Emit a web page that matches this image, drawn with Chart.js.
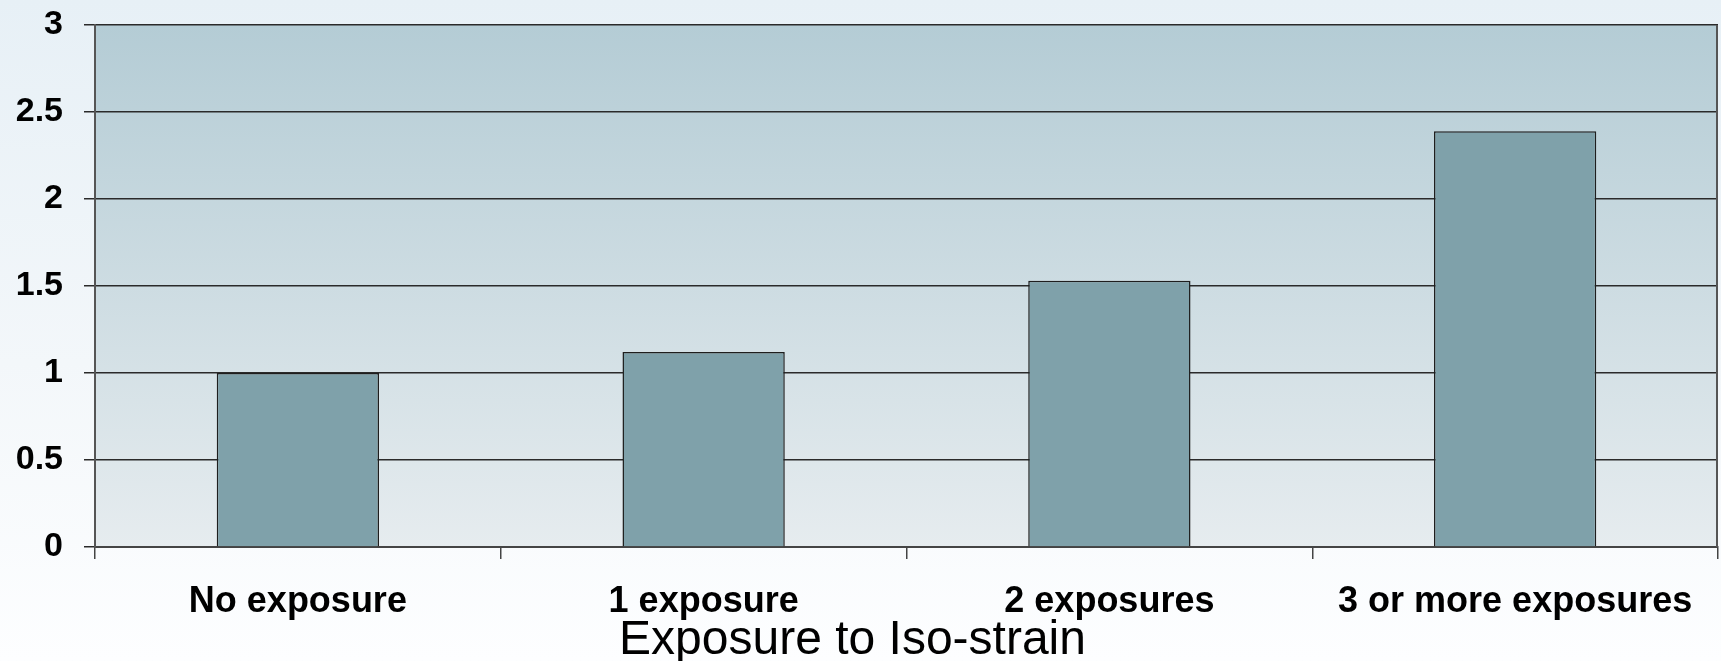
<!DOCTYPE html>
<html>
<head>
<meta charset="utf-8">
<script src="https://cdn.jsdelivr.net/npm/chart.js@4/dist/chart.umd.min.js"></script>
<style>
  html, body { margin: 0; padding: 0; }
  body { width: 1721px; height: 661px; overflow: hidden;
    background: linear-gradient(to bottom, #e7f0f6 0%, #f3f7fa 55%, #fdfeff 100%); }
  #wrap { position: relative; width: 1721px; height: 661px; }
</style>
</head>
<body>
<div id="wrap"><canvas id="c"></canvas></div>
<script>
const categories = ['No exposure', '1 exposure', '2 exposures', '3 or more exposures'];
const values = [1.0, 1.12, 1.53, 2.39];
const yTickValues = [0, 0.5, 1, 1.5, 2, 2.5, 3];
const yTickLabels = ['0', '0.5', '1', '1.5', '2', '2.5', '3'];
const axisTitle = 'Exposure to Iso-strain';

const FONT = "'Liberation Sans', Arial, sans-serif";
Chart.defaults.font.family = FONT;

const plotBg = {
  id: 'plotBg',
  beforeDraw(chart) {
    const { ctx, chartArea: a } = chart;
    const g = ctx.createLinearGradient(0, a.top, 0, a.bottom);
    g.addColorStop(0, '#b4ccd5');
    g.addColorStop(1, '#e6ecef');
    ctx.save();
    ctx.fillStyle = g;
    ctx.fillRect(a.left, a.top, a.right - a.left, a.bottom - a.top);
    ctx.restore();
  },
  beforeDatasetsDraw(chart) {
    const { ctx, chartArea: a } = chart;
    ctx.save();
    ctx.strokeStyle = '#555';
    ctx.lineWidth = 2;
    ctx.beginPath();
    ctx.moveTo(a.right - 1, a.top);
    ctx.lineTo(a.right - 1, a.bottom);
    ctx.stroke();
    ctx.restore();
  },
  afterDraw(chart) {
    const { ctx } = chart;
    ctx.save();
    ctx.font = 'normal 48px ' + FONT;
    ctx.fillStyle = '#000';
    ctx.textAlign = 'center';
    ctx.textBaseline = 'alphabetic';
    ctx.fillText(axisTitle, chart.width / 2 - 8, chart.height - 7);
    ctx.restore();
  }
};

new Chart(document.getElementById('c'), {
  type: 'bar',
  data: {
    labels: categories,
    datasets: [{
      data: values,
      backgroundColor: '#7fa1aa',
      borderColor: '#1e1e1e',
      borderWidth: 1.5,
      barPercentage: 0.4,
      categoryPercentage: 1.0
    }]
  },
  options: {
    responsive: true,
    maintainAspectRatio: false,
    animation: false,
    layout: { padding: { top: 25, right: 3, left: 0, bottom: 34 } },
    plugins: {
      legend: { display: false },
      tooltip: { enabled: false },
      title: { display: false }
    },
    scales: {
      x: {
        offset: true,
        grid: { offset: true, drawOnChartArea: false, drawTicks: true, tickLength: 12, color: '#444', lineWidth: 1.5 },
        border: { display: true, color: '#444', width: 2 },
        ticks: { color: '#000', font: { size: 36, weight: 'bold' }, padding: 21, maxRotation: 0, autoSkip: false },
        afterFit(s) { s.height = 80; }
      },
      y: {
        min: 0,
        max: 3,
        afterBuildTicks(s) { s.ticks = yTickValues.map(v => ({ value: v })); },
        ticks: {
          color: '#000',
          font: { size: 34, weight: 'bold' },
          padding: 21,
          callback: (v) => yTickLabels[yTickValues.indexOf(v)]
        },
        grid: { color: '#2a2a2a', lineWidth: 1.5, tickLength: 11 },
        border: { color: '#555', width: 2 },
        afterFit(s) { s.width = 95; s.paddingTop = 0; s.paddingBottom = 0; }
      }
    }
  },
  plugins: [plotBg]
});
</script>
</body>
</html>
